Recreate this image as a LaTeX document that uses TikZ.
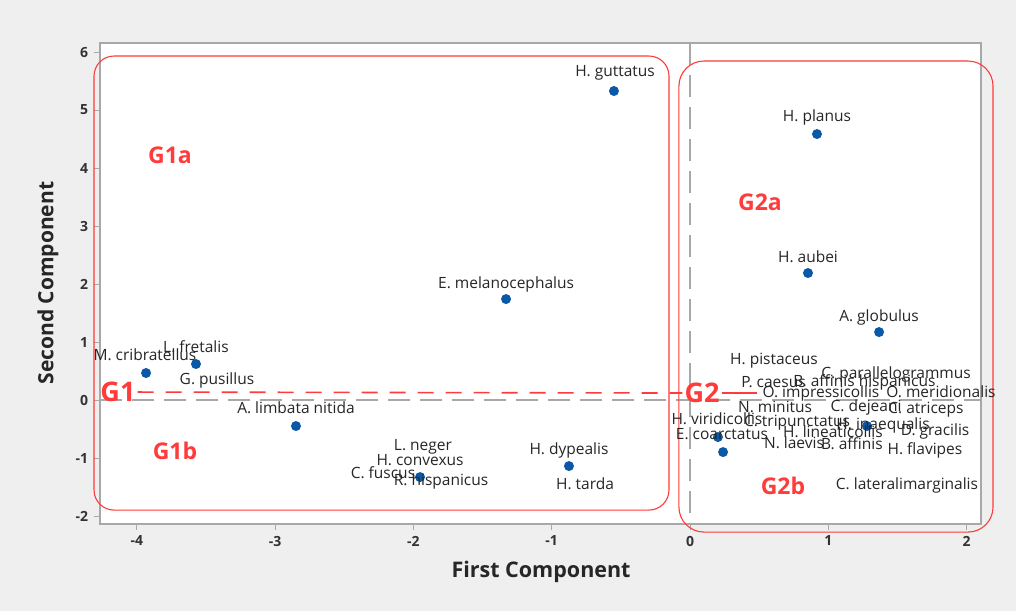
\documentclass[tikz,border=0pt]{standalone}
\usepackage{fontspec}
\setmainfont{Open Sans}
\usepackage{xcolor}
\usetikzlibrary{arrows.meta, positioning, calc}

\definecolor{grpred}{HTML}{FF3B3B}
\definecolor{dotblue}{HTML}{0A58A8}
\definecolor{bggray}{HTML}{EFEFEF}
\definecolor{framegray}{HTML}{A8A8A8}

\begin{document}
\begin{tikzpicture}[x=138.3pt, y=58pt,
    dot/.style={circle, fill=dotblue, minimum size=10pt, inner sep=0pt},
    lbl/.style={font=\fontsize{15.5}{17}\selectfont, text=black!85, inner sep=1pt},
    grp/.style={font=\fontsize{23}{26}\selectfont\bfseries, text=grpred, inner sep=2pt},
    grpbox/.style={draw=grpred, line width=1.1pt},
    refline/.style={draw=framegray, line width=1.1pt, dash pattern=on 22pt off 10pt},
    ticklbl/.style={font=\fontsize{14}{16}\selectfont\bfseries, text=black!80}]
    % page and plot area
    \fill[bggray] (-4.989,-3.638) rectangle (2.357,6.897);
    \useasboundingbox (-4.989,-3.638) rectangle (2.357,6.897);
    \draw[framegray, line width=1.3pt, fill=white] (-4.266,-2.138) rectangle (2.104,6.155);
    \foreach \v in {-4,...,2}
        \draw[framegray, line width=1pt] (\v,-2.138) -- ++(0,-6pt)
            node[ticklbl, below=2pt] {\v};
    \foreach \v in {-2,...,6}
        \draw[framegray, line width=1pt] (-4.266,\v) -- ++(-6pt,0)
            node[ticklbl, left=2pt] {\v};
    \node[font=\fontsize{21.5}{24}\selectfont\bfseries, text=black!85] (xtitle) at (-1.077,-2.966) {First Component};
    \node[font=\fontsize{21}{24}\selectfont\bfseries, text=black!85, rotate=90] (ytitle) at (-4.642,2.017) {Second Component};
    % reference lines
    \draw[refline] (-4.266,0) -- (2.104,0);
    \draw[refline] (0,6.155) -- (0,-2.138);
    % groups
    \draw[grpbox, rounded corners=20pt] (-4.309,-1.897) rectangle (-0.152,5.931);
    \draw[grpbox, rounded corners=25pt] (-0.080,-2.276) rectangle (2.191,5.845);
    \node[grp] (G1a) at (-3.760,4.224) {G1a};
    \node[grp] (G1b) at (-3.724,-0.879) {G1b};
    \node[grp, font=\fontsize{27}{30}\selectfont\bfseries] (G1) at (-4.136,0.138) {G1};
    \node[grp] (G2a) at (0.506,3.414) {G2a};
    \node[grp, font=\fontsize{27}{30}\selectfont\bfseries] (G2) at (0.087,0.121) {G2};
    \node[grp] (G2b) at (0.672,-1.483) {G2b};
    \coordinate (g2end) at (0.484,0.121);
    \draw[grpred, line width=1.6pt, dash pattern=on 16pt off 12pt] (G1.east) -- (G2.west);
    \draw[grpred, line width=1.6pt] (G2.east) -- (g2end);
    % scores
    \node[dot] (guttatus) at (-0.550,5.328) {};
    \node[dot] (melanocephalus) at (-1.330,1.741) {};
    \node[dot] (planus) at (0.918,4.586) {};
    \node[dot] (aubei) at (0.853,2.190) {};
    \node[dot] (globulus) at (1.367,1.172) {};
    \node[dot] (cribratellus) at (-3.933,0.466) {};
    \node[dot] (fretalis) at (-3.572,0.621) {};
    \node[dot] (limbata) at (-2.849,-0.448) {};
    \node[dot] (neger) at (-1.952,-1.328) {};
    \node[dot] (dypealis) at (-0.875,-1.138) {};
    \node[dot] (viridicollis) at (0.202,-0.638) {};
    \node[dot] (coarctatus) at (0.239,-0.897) {};
    \node[dot] (inaequalis) at (1.280,-0.448) {};
    % species labels
    \node[lbl] (l-guttatus) at (-0.542,5.638) {H. guttatus};
    \node[lbl] (l-melanocephalus) at (-1.330,2.000) {E. melanocephalus};
    \node[lbl] (l-planus) at (0.918,4.879) {H. planus};
    \node[lbl] (l-aubei) at (0.853,2.466) {H. aubei};
    \node[lbl] (l-globulus) at (1.367,1.431) {A. globulus};
    \node[lbl] (l-cribratellus) at (-3.941,0.776) {M. cribratellus};
    \node[lbl] (l-fretalis) at (-3.572,0.914) {L. fretalis};
    \node[lbl] (l-pusillus) at (-3.420,0.345) {G. pusillus};
    \node[lbl] (l-limbata) at (-2.849,-0.138) {A. limbata nitida};
    \node[lbl] (l-neger) at (-1.931,-0.810) {L. neger};
    \node[lbl] (l-convexus) at (-1.952,-1.034) {H. convexus};
    \node[lbl] (l-fuscus) at (-2.220,-1.259) {C. fuscus};
    \node[lbl] (l-hispanicus) at (-1.800,-1.397) {R. hispanicus};
    \node[lbl] (l-dypealis) at (-0.875,-0.862) {H. dypealis};
    \node[lbl] (l-tarda) at (-0.759,-1.448) {H. tarda};
    \node[lbl] (l-pistaceus) at (0.607,0.672) {H. pistaceus};
    \node[lbl, anchor=west] (l-caesus) at (0.362,0.310) {P. caesus};
    \node[lbl, anchor=west] (l-affhisp) at (0.738,0.310) {B. affinis hispanicus};
    \node[lbl] (l-parallelogrammus) at (1.490,0.448) {C. parallelogrammus};
    \node[lbl] (l-impressicollis) at (0.947,0.121) {O. impressicollis};
    \node[lbl] (l-meridionalis) at (1.815,0.138) {O. meridionalis};
    \node[lbl] (l-minitus) at (0.615,-0.121) {N. minitus};
    \node[lbl] (l-dejeani) at (1.273,-0.121) {C. dejeani};
    \node[lbl] (l-atriceps) at (1.706,-0.172) {C. atriceps};
    \node[lbl] (l-viridicollis) at (0.195,-0.328) {H. viridicollis};
    \node[lbl] (l-tripunctatus) at (0.774,-0.397) {C. tripunctatus};
    \node[lbl] (l-inaequalis) at (1.396,-0.431) {H. inaequalis};
    \node[lbl] (l-coarctatus) at (0.231,-0.586) {E. coarctatus};
    \node[lbl] (l-lineaticollis) at (1.034,-0.552) {H. lineaticollis};
    \node[lbl] (l-gracilis) at (1.772,-0.534) {D. gracilis};
    \node[lbl] (l-laevis) at (0.752,-0.741) {N. laevis};
    \node[lbl] (l-affinis) at (1.171,-0.759) {B. affinis};
    \node[lbl] (l-flavipes) at (1.699,-0.862) {H. flavipes};
    \node[lbl] (l-lateralimarginalis) at (1.569,-1.466) {C. lateralimarginalis};
\end{tikzpicture}
\end{document}
